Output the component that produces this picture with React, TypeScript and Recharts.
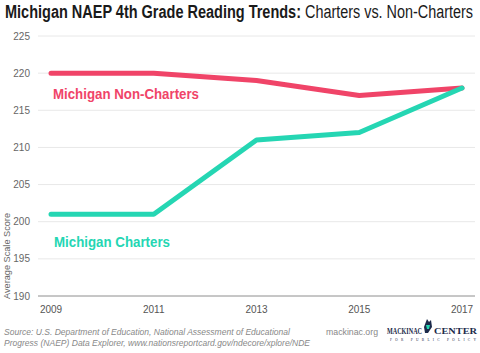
import { CartesianGrid, Line, LineChart, XAxis, YAxis } from "recharts";

const years = ["2009", "2011", "2013", "2015", "2017"];
const nonCharters = [220, 220, 219, 217, 218];
const charters = [201, 201, 211, 212, 218];
const yTicks = [190, 195, 200, 205, 210, 215, 220, 225];

const data = years.map((year, i) => ({ year, nonCharters: nonCharters[i], charters: charters[i] }));

const RED = "#f04468";
const TEAL = "#25d6b3";
const NAVY = "#1c2a4a";
const SANS = '"Liberation Sans", Arial, sans-serif';
const SERIF = '"Liberation Serif", serif';

// narrow-looking text: small font stretched vertically
function Tall(props: { x: number; y: number; size: number; sy: number; len: number; bold?: boolean; fill: string; font?: string; children: string }) {
  const { x, y, size, sy, len, bold, fill, font, children } = props;
  return (
    <text
      transform={`translate(${x} ${y}) scale(1 ${sy})`}
      fontSize={size}
      fontWeight={bold ? "bold" : "normal"}
      fontFamily={font || SANS}
      fill={fill}
      textLength={len}
      lengthAdjust="spacingAndGlyphs"
    >
      {children}
    </text>
  );
}

export default function App() {
  return (
    <div style={{ position: "absolute", left: 0, top: 0, width: 480, height: 353, background: "#fff", fontFamily: SANS }}>
      <LineChart width={480} height={353} data={data} margin={{ top: 36, right: 5, bottom: 27, left: 0 }}>
        <CartesianGrid vertical={false} stroke="#e8e8e8" />
        <XAxis
          dataKey="year"
          height={30}
          axisLine={{ stroke: "#9a9a9a" }}
          tickLine={false}
          padding={{ left: 13, right: 13 }}
          tick={{ fontSize: 10, fill: "#555", fontFamily: SANS }}
          tickMargin={4}
        />
        <YAxis
          width={38}
          domain={[190, 225]}
          ticks={yTicks}
          axisLine={false}
          tickLine={false}
          tick={{ fontSize: 10, fill: "#666", fontFamily: SANS }}
          tickMargin={2}
        />
        <Line dataKey="nonCharters" stroke={RED} strokeWidth={5} dot={false} strokeLinecap="round" strokeLinejoin="round" isAnimationActive={false} />
        <Line dataKey="charters" stroke={TEAL} strokeWidth={5} dot={false} strokeLinecap="round" strokeLinejoin="round" isAnimationActive={false} />
      </LineChart>
      <svg width={480} height={353} style={{ position: "absolute", left: 0, top: 0, pointerEvents: "none" }}>
        <Tall x={5} y={18} size={13} sy={1.38} len={296} bold fill="#1a1a1a">
          Michigan NAEP 4th Grade Reading Trends:
        </Tall>
        <Tall x={305} y={18} size={13} sy={1.38} len={168} fill="#1a1a1a">
          Charters vs. Non-Charters
        </Tall>
        <Tall x={53} y={99} size={13} sy={1.1} len={146} bold fill={RED}>
          Michigan Non-Charters
        </Tall>
        <Tall x={54} y={247} size={13} sy={1.1} len={116} bold fill={TEAL}>
          Michigan Charters
        </Tall>
        <text
          x={10}
          y={256}
          fontSize={9}
          fill="#666"
          textAnchor="middle"
          transform="rotate(-90 10 256)"
          textLength={86}
          lengthAdjust="spacingAndGlyphs"
        >
          Average Scale Score
        </text>
        <text x={4} y={335} fontSize={8.5} fontStyle="italic" fill="#888" textLength={286} lengthAdjust="spacingAndGlyphs">
          Source: U.S. Department of Education, National Assessment of Educational
        </text>
        <text x={4} y={346} fontSize={8.5} fontStyle="italic" fill="#888" textLength={306} lengthAdjust="spacingAndGlyphs">
          Progress (NAEP) Data Explorer, www.nationsreportcard.gov/ndecore/xplore/NDE
        </text>
        <text x={326} y={335} fontSize={9.5} fill="#888" textLength={52} lengthAdjust="spacingAndGlyphs">
          mackinac.org
        </text>
        <Tall x={387} y={334} size={6.5} sy={1.4} len={35} bold font={SERIF} fill={NAVY}>
          MACKINAC
        </Tall>
        <path d="M424 327 L427 319 L429 322 L431 320 L432 327 L430 330 L428 333 L425 333 Z" fill={NAVY} />
        <path d="M426 325 L430 325 L429 329 L427 329 Z" fill={TEAL} />
        <Tall x={434} y={334} size={6.5} sy={1.4} len={43} bold font={SERIF} fill={NAVY}>
          CENTER
        </Tall>
        <text x={390} y={341} fontSize={3.5} fontFamily={SERIF} fill={NAVY} textLength={86} lengthAdjust="spacing">
          FOR PUBLIC POLICY
        </text>
      </svg>
    </div>
  );
}
